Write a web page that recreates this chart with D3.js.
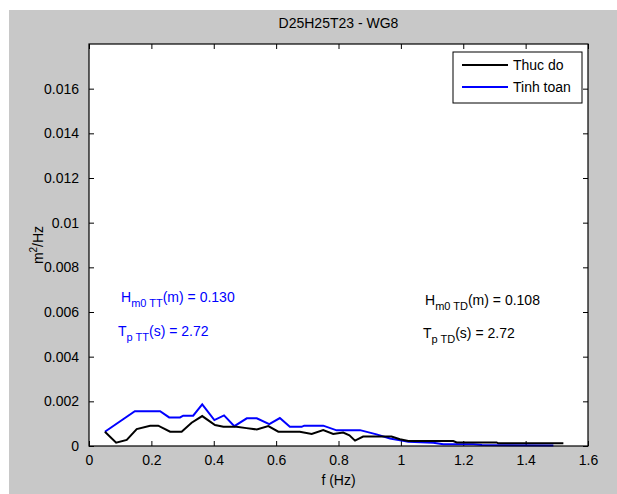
<!DOCTYPE html>
<html>
<head>
<meta charset="utf-8">
<script src="https://cdn.jsdelivr.net/npm/d3@7"></script>
<style>
  body { margin: 0; background: #fff; }
  svg { display: block; font-family: "Liberation Sans", Arial, sans-serif; }
  .axis text { font-size: 14px; fill: #000; }
  .axis path, .axis line { stroke: #000; }
</style>
</head>
<body>
<svg id="chart"></svg>
<script>
// measured spectrum (Thuc do)
const fMeasured = [0.051, 0.087, 0.121, 0.153, 0.196, 0.222, 0.26, 0.297, 0.329, 0.363, 0.404, 0.431, 0.473, 0.505, 0.538, 0.575, 0.607, 0.676, 0.714, 0.751, 0.783, 0.815, 0.835, 0.853, 0.879, 0.97, 0.997, 1.024, 1.168, 1.179, 1.307, 1.312, 1.521];
const sMeasured = [0.00064, 0.00015, 0.00027, 0.00076, 0.00091, 0.00091, 0.00064, 0.00064, 0.00104, 0.00134, 0.00094, 0.00086, 0.00086, 0.0008, 0.00074, 0.00089, 0.00064, 0.00064, 0.00054, 0.00071, 0.00054, 0.0006, 0.00048, 0.00024, 0.00042, 0.00042, 0.0003, 0.00022, 0.00022, 0.00016, 0.00016, 0.00012, 0.00012];

// computed spectrum (Tinh toan)
const fComputed = [0.051, 0.147, 0.228, 0.257, 0.292, 0.302, 0.334, 0.363, 0.402, 0.433, 0.466, 0.506, 0.538, 0.578, 0.612, 0.644, 0.682, 0.69, 0.751, 0.794, 0.869, 0.922, 0.965, 1.002, 1.024, 1.104, 1.136, 1.232, 1.26, 1.489];
const sComputed = [0.00064, 0.00156, 0.00156, 0.00128, 0.00128, 0.00136, 0.00136, 0.00186, 0.00116, 0.00137, 0.00089, 0.00124, 0.00124, 0.00098, 0.00125, 0.00086, 0.00086, 0.00091, 0.00091, 0.0007, 0.00071, 0.00052, 0.00034, 0.00024, 0.00019, 0.00015, 0.00008, 0.00008, 0.00004, 0.00002];

const xTicks = [0, 0.2, 0.4, 0.6, 0.8, 1, 1.2, 1.4, 1.6];
const yTicks = [0, 0.002, 0.004, 0.006, 0.008, 0.01, 0.012, 0.014, 0.016];
const seriesNames = ['Thuc do', 'Tinh toan'];
const seriesColors = ['#000000', '#0000ff'];

const W = 617, H = 494;
const margin = {top: 44, right: 29, bottom: 48, left: 89};
const width = W - margin.left - margin.right;
const height = H - margin.top - margin.bottom;

const svg = d3.select('#chart').attr('width', W).attr('height', H);

// figure background
svg.append('rect')
    .attr('x', 9).attr('y', 10)
    .attr('width', W - 9).attr('height', H - 10)
    .attr('fill', '#c8c8c8');

const chart = svg.append('g')
    .attr('transform', `translate(${margin.left},${margin.top})`);

chart.append('rect')
    .attr('width', width).attr('height', height)
    .attr('fill', '#fff');

const x = d3.scaleLinear().domain([0, 1.6]).range([0, width]);
const y = d3.scaleLinear().domain([0, 0.018]).range([height, 0]);

const fmtY = d => d === 0 ? '0' : d3.format('')(+d.toFixed(3));

// axes with inward ticks, mirrored on top/right
chart.append('g').attr('class', 'axis')
    .attr('transform', `translate(0,${height})`)
    .call(d3.axisBottom(x).tickValues(xTicks).tickSize(-5).tickPadding(9).tickFormat(d3.format('')))
    .call(g => g.select('.domain').remove());
chart.append('g').attr('class', 'axis')
    .call(d3.axisLeft(y).tickValues(yTicks).tickSize(-5).tickPadding(10).tickFormat(fmtY))
    .call(g => g.select('.domain').remove());
chart.append('g').attr('class', 'axis')
    .call(d3.axisTop(x).tickValues(xTicks).tickSize(-5).tickFormat(''))
    .call(g => g.select('.domain').remove());
chart.append('g').attr('class', 'axis')
    .attr('transform', `translate(${width},0)`)
    .call(d3.axisRight(y).tickValues(yTicks).tickSize(-5).tickFormat(''))
    .call(g => g.select('.domain').remove());

const line = d3.line().x(d => x(d[0])).y(d => y(d[1]));

chart.append('path')
    .datum(d3.zip(fComputed, sComputed))
    .attr('fill', 'none').attr('stroke', seriesColors[1]).attr('stroke-width', 2)
    .attr('d', line);
chart.append('path')
    .datum(d3.zip(fMeasured, sMeasured))
    .attr('fill', 'none').attr('stroke', seriesColors[0]).attr('stroke-width', 2)
    .attr('d', line);

// frame
chart.append('rect')
    .attr('width', width).attr('height', height)
    .attr('fill', 'none').attr('stroke', '#000').attr('stroke-width', 1.2);

// title and axis labels
svg.append('text')
    .attr('x', margin.left + width / 2).attr('y', 28)
    .attr('text-anchor', 'middle').attr('font-size', 14)
    .text('D25H25T23 - WG8');
svg.append('text')
    .attr('x', margin.left + width / 2).attr('y', 485)
    .attr('text-anchor', 'middle').attr('font-size', 14)
    .text('f (Hz)');
const yl = svg.append('text')
    .attr('transform', `translate(43,${margin.top + height / 2}) rotate(-90)`)
    .attr('text-anchor', 'middle').attr('font-size', 14);
yl.append('tspan').text('m');
yl.append('tspan').attr('dy', -6).attr('font-size', 10).text('2');
yl.append('tspan').attr('dy', 6).text('/Hz');

// legend
const lg = svg.append('g').attr('transform', 'translate(453,52)');
lg.append('rect').attr('width', 129).attr('height', 51)
    .attr('fill', '#fff').attr('stroke', '#000').attr('stroke-width', 1);
seriesNames.forEach((name, i) => {
  const ly = 13 + i * 22;
  lg.append('line').attr('x1', 9).attr('x2', 55).attr('y1', ly).attr('y2', ly)
      .attr('stroke', seriesColors[i]).attr('stroke-width', 2);
  lg.append('text').attr('x', 60).attr('y', ly + 5).attr('font-size', 14).text(name);
});

// annotations
function annot(px, py, main, sub, rest, color) {
  const t = svg.append('text').attr('x', px).attr('y', py)
      .attr('font-size', 14).attr('fill', color);
  t.append('tspan').text(main);
  t.append('tspan').attr('dy', 5).attr('font-size', 11).text(sub);
  t.append('tspan').attr('dy', -5).text(rest);
}
annot(121, 302, 'H', 'm0 TT', '(m) = 0.130', '#0000ff');
annot(118, 336, 'T', 'p TT', '(s) = 2.72', '#0000ff');
annot(425, 305, 'H', 'm0 TD', '(m) = 0.108', '#000');
annot(423, 338, 'T', 'p TD', '(s) = 2.72', '#000');
</script>
</body>
</html>
